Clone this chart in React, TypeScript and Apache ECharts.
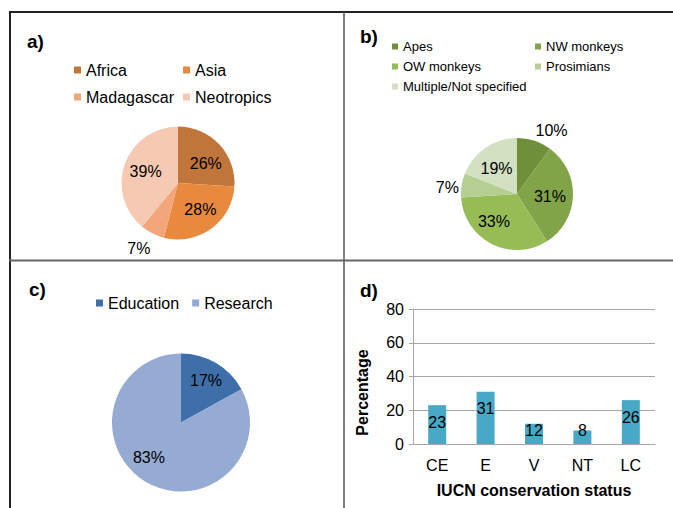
import React, { useEffect, useRef } from "react";
import * as echarts from "echarts";

const regionNames = ["Africa", "Asia", "Madagascar", "Neotropics"];
const regionValues = [26, 28, 7, 39];
const regionColors = ["#c0763a", "#e8893e", "#f2a679", "#f6c9b2"];

const taxonNames = ["Apes", "NW monkeys", "OW monkeys", "Prosimians", "Multiple/Not specified"];
const taxonValues = [10, 31, 33, 7, 19];
const taxonColors = ["#6f8f3b", "#80a447", "#96bd55", "#b5ce91", "#d3e1c2"];

const purposeNames = ["Education", "Research"];
const purposeValues = [17, 83];
const purposeColors = ["#3f6fa9", "#95abd3"];

const statusCategories = ["CE", "E", "V", "NT", "LC"];
const statusValues = [23, 31, 12, 8, 26];
const yTicks = { min: 0, max: 80, interval: 20 };

const FONT = "Liberation Sans, Arial, sans-serif";

export default function App() {
  const ref = useRef<HTMLDivElement>(null);
  useEffect(() => {
    document.body.style.margin = "0";
    const chart = echarts.init(ref.current!, undefined, { renderer: "svg" });
    const pieLabel = (size: number) => ({
      show: true,
      position: "inside",
      formatter: "{c}%",
      color: "#000",
      fontSize: size,
      fontFamily: FONT,
    });
    const line = (x1: number, y1: number, x2: number, y2: number, color: string, w: number) => ({
      type: "line",
      shape: { x1, y1, x2, y2 },
      style: { stroke: color, lineWidth: w },
      silent: true,
    });
    const tag = (text: string, x: number, y: number) => ({
      type: "text",
      x,
      y,
      style: { text, font: `bold 19px ${FONT}`, fill: "#000", verticalAlign: "middle" },
    });
    const legendBase = (size: number, icon: number) => ({
      orient: "vertical",
      icon: "rect",
      padding: 0,
      itemWidth: icon,
      itemHeight: icon,
      selectedMode: false,
      textStyle: { fontSize: size, fontFamily: FONT, color: "#000" },
    });
    chart.setOption({
      animation: false,
      backgroundColor: "#fff",
      legend: [
        { ...legendBase(16, 7), left: 74, top: 62, itemGap: 11, data: [regionNames[0], regionNames[2]] },
        { ...legendBase(16, 7), left: 183, top: 62, itemGap: 11, data: [regionNames[1], regionNames[3]] },
        { ...legendBase(13, 6), left: 392, top: 40, itemGap: 7, data: [taxonNames[0], taxonNames[2], taxonNames[4]] },
        { ...legendBase(13, 6), left: 535, top: 40, itemGap: 7, data: [taxonNames[1], taxonNames[3]] },
        { ...legendBase(16, 7), orient: "horizontal", left: 96, top: 295, itemGap: 13, data: purposeNames },
      ],
      grid: { left: 413, right: 18, top: 309, bottom: 64 },
      xAxis: {
        type: "category",
        data: statusCategories,
        axisLine: { lineStyle: { color: "#a6a6a6" } },
        axisTick: { show: false },
        axisLabel: { fontSize: 16, fontFamily: FONT, color: "#000", margin: 13 },
        name: "IUCN conservation status",
        nameLocation: "middle",
        nameGap: 38,
        nameTextStyle: { fontSize: 16, fontWeight: "bold", fontFamily: FONT, color: "#000" },
      },
      yAxis: {
        type: "value",
        ...yTicks,
        axisLine: { show: true, lineStyle: { color: "#a6a6a6" } },
        axisTick: { show: true, length: 4, lineStyle: { color: "#a6a6a6" } },
        splitLine: { lineStyle: { color: "#a6a6a6" } },
        axisLabel: { fontSize: 16, fontFamily: FONT, color: "#000", margin: 9 },
        name: "Percentage",
        nameLocation: "middle",
        nameGap: 43,
        nameTextStyle: {
          fontSize: 16,
          fontWeight: "bold",
          fontFamily: FONT,
          color: "#000",
          padding: [0, 32, 0, 0],
        },
      },
      series: [
        {
          type: "pie",
          center: [178, 183],
          radius: 56.5,
          startAngle: 90,
          color: regionColors,
          label: pieLabel(16),
          labelLine: { show: false },
          labelLayout: (p: any) => {
            const o = [[5, 2], [4, 1], [-25, 38], [-3, -1]][p.dataIndex];
            return { dx: o[0], dy: o[1] };
          },
          data: regionNames.map((n, i) => ({ name: n, value: regionValues[i] })),
        },
        {
          type: "pie",
          center: [517, 194],
          radius: 56,
          startAngle: 90,
          color: taxonColors,
          label: pieLabel(16),
          labelLine: { show: false },
          labelLayout: (p: any) => {
            const o = [[25, -34], [2, 2], [-9, 0], [-39, -2], [-3, 0]][p.dataIndex];
            return { dx: o[0], dy: o[1] };
          },
          data: taxonNames.map((n, i) => ({ name: n, value: taxonValues[i] })),
        },
        {
          type: "pie",
          center: [181, 422.5],
          radius: 69,
          startAngle: 90,
          color: purposeColors,
          label: pieLabel(16),
          labelLine: { show: false },
          labelLayout: (p: any) => {
            const o = [[6, -10], [-13, 3]][p.dataIndex];
            return { dx: o[0], dy: o[1] };
          },
          data: purposeNames.map((n, i) => ({ name: n, value: purposeValues[i] })),
        },
        {
          type: "bar",
          barWidth: 18,
          itemStyle: { color: "#47a9c6" },
          label: { show: true, position: "insideTop", distance: 9, fontSize: 16, fontFamily: FONT, color: "#000" },
          data: statusValues.map((v) => ({
            value: v,
            label: v < 15 ? { position: "insideBottom", distance: 6 } : undefined,
          })),
        },
      ],
      graphic: [
        line(9, 12, 673, 12, "#222", 2),
        line(10, 12, 10, 508, "#222", 2),
        line(344, 12, 344, 508, "#555", 1.5),
        line(9, 260.5, 673, 260.5, "#666", 2),
        tag("a)", 27, 41),
        tag("b)", 360, 36),
        tag("c)", 29, 289),
        tag("d)", 360, 290),
      ],
    });
    return () => chart.dispose();
  }, []);
  return <div ref={ref} style={{ width: 673, height: 508 }} />;
}
